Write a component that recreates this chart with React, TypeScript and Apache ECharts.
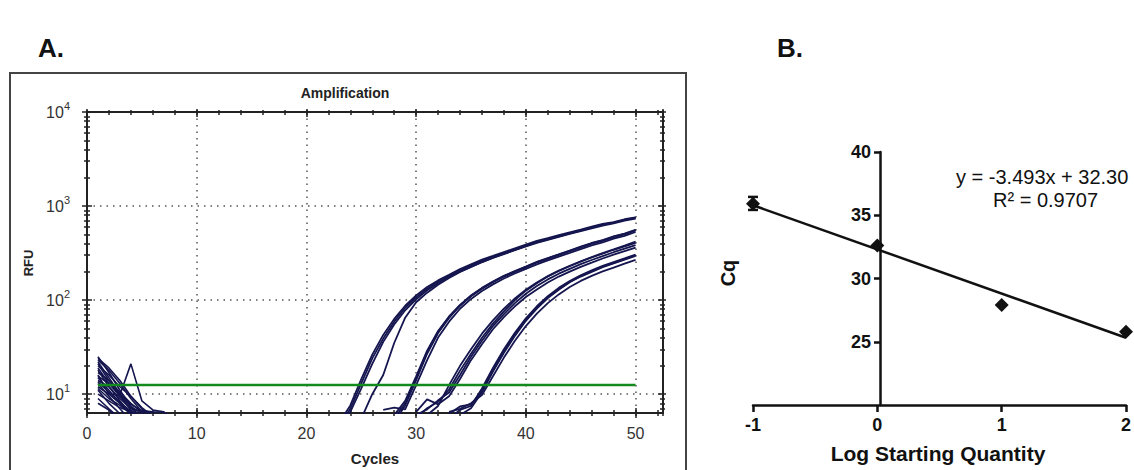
import React, { useEffect, useRef } from "react";
import * as echarts from "echarts";

// ---------- Panel A: amplification curves (RFU per cycle) ----------
const noiseStartCycle = 1;
const noiseCurves: number[][] = [
  [25, 17, 11, 7.5, 5.5, 4.5],
  [24, 19, 14, 9.5, 7, 5.5],
  [23, 18, 13, 9, 6.5, 5],
  [22, 15, 10, 7.2, 5.2],
  [21, 14, 9.5, 6.8, 5],
  [20, 16, 12, 9.5, 7.2, 5.8],
  [19, 13, 10, 7.8, 6.7, 6.5, 6.4, 5.6],
  [18, 12, 8.5, 6.2, 4.8],
  [17, 14, 10.5, 8, 6.4, 5.5, 5],
  [16, 10, 9.8, 21, 8.5, 6.8, 6.5, 5],
  [15.5, 13, 9.5, 7.4, 6.2, 5],
  [15, 11, 8, 6, 4.5],
  [14, 12, 9, 7, 6.6, 6.4, 5],
  [13.5, 10.5, 8.2, 6.6, 5.4],
  [13, 9.5, 7, 5.2],
  [12, 10, 8, 6.5, 5],
  [11.5, 9, 7.6, 6.3, 5.6, 4.8],
  [11, 8, 6.2, 4.5],
  [10, 8.5, 7.2, 6.5, 5.2],
  [9, 7, 5.5],
  [8, 6.8, 5.2],
];

const group1Start = 22;
const group1Curves: number[][] = [
  [3.5, 5.0, 7.6, 14.5, 26.3, 42.7, 63.1, 87.1, 112, 138, 162, 186, 214, 240, 269, 295, 324, 355, 389, 427, 457, 490, 525, 562, 603, 646, 676, 724, 759],
  [3.0, 4.2, 6.5, 11.5, 21, 36, 55, 78, 102, 127, 151, 175, 201, 226, 254, 281, 309, 339, 372, 407, 437, 470, 505, 541, 580, 620, 655, 700, 735],
  [3.2, 4.6, 7.0, 13.0, 24, 39, 59, 83, 107, 132, 157, 181, 208, 233, 262, 289, 317, 347, 381, 417, 447, 480, 515, 552, 592, 633, 666, 712, 748],
  [2.5, 3.0, 4.0, 5.5, 10, 16, 35, 65, 95, 120, 146, 172, 199, 226, 253, 282, 311, 342, 375, 410, 442, 476, 512, 549, 589, 630, 668, 712, 748],
];

const group2Start = 27;
const group2Curves: number[][] = [
  [4.0, 5.0, 7.6, 14.1, 26.9, 44.7, 64.6, 87.1, 110, 132, 155, 178, 200, 224, 251, 275, 302, 331, 363, 398, 427, 468, 501, 550],
  [6.8, 7.2, 6.9, 12.5, 23, 40, 59, 81, 103, 125, 147, 170, 192, 215, 240, 264, 290, 318, 349, 382, 410, 450, 482, 530],
  [5.0, 6.0, 8.5, 15.5, 29, 47, 67, 89, 112, 135, 158, 181, 204, 228, 255, 280, 307, 337, 370, 405, 435, 476, 510, 560],
  [4.5, 5.5, 8.0, 14.8, 28, 46, 66, 88, 111, 134, 157, 180, 202, 226, 253, 278, 305, 334, 366, 401, 431, 472, 505, 555],
];

const group3Start = 30;
const group3Curves: number[][] = [
  [5.6, 7.1, 8.3, 11.2, 17.8, 26.9, 39.8, 56.2, 75.9, 100, 126, 151, 178, 204, 229, 257, 284, 312, 343, 372, 407],
  [6.5, 8.8, 7.8, 9.5, 14.5, 23, 34, 49, 66, 86, 108, 130, 154, 178, 201, 226, 250, 277, 304, 332, 362],
  [5.0, 6.0, 7.5, 12.5, 20, 30, 44, 61, 81, 104, 129, 154, 180, 206, 232, 259, 287, 316, 346, 380, 420],
  [6.0, 6.9, 8.6, 10.4, 16, 25, 37, 53, 71, 93, 117, 141, 166, 191, 215, 241, 267, 294, 323, 352, 385],
];

const group4Start = 33;
const group4Curves: number[][] = [
  [5.0, 6.0, 7.1, 10.5, 17.4, 27.5, 41.7, 60.3, 81.3, 105, 129, 155, 178, 200, 224, 245, 269, 295],
  [6.5, 7.0, 8.0, 9.8, 15.5, 24.5, 37, 53, 72, 93, 115, 138, 160, 181, 202, 222, 244, 268],
  [5.5, 6.8, 7.5, 11.5, 19, 30, 45, 64, 86, 110, 135, 160, 184, 207, 231, 254, 278, 305],
  [6.2, 7.4, 7.8, 10.8, 18, 28.5, 43, 62, 83, 107, 132, 157, 181, 203, 227, 249, 273, 300],
];

const thresholdCycles = [1, 50];
const thresholdRFU = 12.5;

const cycleTicksMajor = 10;
const cycleTicksMinor = 2;
const rfuDecades = [10, 100, 1000, 10000];
const rfuMinorTicks = [
  7, 8, 9, 20, 30, 40, 50, 60, 70, 80, 90, 200, 300, 400, 500, 600, 700, 800, 900,
  2000, 3000, 4000, 5000, 6000, 7000, 8000, 9000,
];

// ---------- Panel B: standard curve ----------
const logQuantity = [-1, 0, 1, 2];
const cqMean = [35.9, 32.6, 27.9, 25.8];
const errX = [-1];
const errLow = [35.42];
const errHigh = [36.45];
const fitX = [-1, 2];
const fitY = [35.79, 25.32];

const AR = 'Arial, "Liberation Sans", sans-serif';
const NAVY = "#15154f";
const AX = "#222";

function buildOption() {
  const lg = (v: number) => Math.log10(v);
  const dotted = { color: "#555", width: 1.5, type: [1.5, 5] as any };

  const xBase = (o: any) => ({
    gridIndex: 0,
    type: "value",
    min: 0,
    max: 52.5,
    axisLine: { show: false, onZero: false, lineStyle: { color: AX, width: 2 } },
    axisLabel: { show: false },
    splitLine: { show: false },
    ...o,
  });
  const tk = (inside: boolean, len: number) => ({
    show: true,
    inside,
    length: len,
    lineStyle: { color: AX, width: 1.5 },
  });
  const xAxes: any[] = [
    xBase({
      position: "bottom",
      interval: cycleTicksMajor,
      axisLine: { show: true, onZero: false, lineStyle: { color: AX, width: 2 } },
      axisTick: tk(false, 5),
      axisLabel: { show: true, showMaxLabel: false, margin: 12, fontSize: 16, color: "#333", fontFamily: AR },
      splitLine: { show: true, lineStyle: dotted },
    }),
    xBase({ position: "bottom", interval: cycleTicksMajor, axisTick: tk(true, 5) }),
    xBase({ position: "bottom", interval: cycleTicksMinor, axisTick: tk(false, 3) }),
    xBase({ position: "bottom", interval: cycleTicksMinor, axisTick: tk(true, 3) }),
    xBase({
      position: "top",
      interval: cycleTicksMajor,
      axisLine: { show: true, onZero: false, lineStyle: { color: AX, width: 2 } },
      axisTick: tk(true, 5),
    }),
    xBase({ position: "top", interval: cycleTicksMajor, axisTick: tk(false, 3) }),
    xBase({ position: "top", interval: cycleTicksMinor, axisTick: tk(true, 3) }),
    xBase({ position: "top", interval: cycleTicksMinor, axisTick: tk(false, 2) }),
  ];

  const majorVals = rfuDecades.map(lg);
  const minorVals = rfuMinorTicks.map(lg);
  const yBase = (o: any) => ({
    gridIndex: 0,
    type: "value",
    min: 0.8,
    max: 4,
    axisLine: { show: false, onZero: false, lineStyle: { color: AX, width: 2 } },
    axisLabel: { show: false },
    splitLine: { show: false },
    ...o,
  });
  const ctk = (vals: number[], inside: boolean, len: number) => ({
    show: true,
    inside,
    length: len,
    customValues: vals,
    lineStyle: { color: AX, width: 1.5 },
  });
  const yAxes: any[] = [
    yBase({
      position: "left",
      axisLine: { show: true, onZero: false, lineStyle: { color: AX, width: 2 } },
      axisTick: ctk(majorVals, false, 5),
      axisLabel: {
        show: true,
        customValues: majorVals,
        margin: 17,
        fontSize: 16,
        formatter: (v: number) => "{b|10}{s|" + Math.round(v) + "}",
        rich: {
          b: { fontSize: 16, color: "#333", fontFamily: AR },
          s: { fontSize: 11, color: "#333", fontFamily: AR, padding: [0, 0, 12, 0] },
        },
      },
      splitLine: { show: true, lineStyle: dotted },
    }),
    yBase({ position: "left", axisTick: ctk(majorVals, true, 5) }),
    yBase({ position: "left", axisTick: ctk(minorVals, false, 3) }),
    yBase({ position: "left", axisTick: ctk(minorVals, true, 3) }),
    yBase({
      position: "right",
      axisLine: { show: true, onZero: false, lineStyle: { color: AX, width: 2 } },
      axisTick: ctk(majorVals, true, 5),
    }),
    yBase({ position: "right", axisTick: ctk(majorVals, false, 3) }),
    yBase({ position: "right", axisTick: ctk(minorVals, true, 3) }),
    yBase({ position: "right", axisTick: ctk(minorVals, false, 2) }),
  ];

  // panel B axes
  xAxes.push({
    gridIndex: 1,
    type: "value",
    min: -1,
    max: 2,
    interval: 1,
    position: "bottom",
    axisLine: { onZero: false, lineStyle: { color: "#111", width: 2.5 } },
    axisTick: { show: true, length: 7, lineStyle: { color: "#111", width: 2.5 } },
    axisLabel: { fontSize: 18, fontWeight: "bold", color: "#111", fontFamily: AR, margin: 11 },
    splitLine: { show: false },
  });
  yAxes.push({
    gridIndex: 1,
    type: "value",
    min: 20,
    max: 40,
    interval: 5,
    position: "left",
    offset: -127,
    axisLine: { show: true, onZero: false, lineStyle: { color: "#111", width: 2.5 } },
    axisTick: { show: true, length: 6, lineStyle: { color: "#111", width: 2.5 } },
    axisLabel: { fontSize: 18, fontWeight: "bold", color: "#111", fontFamily: AR, margin: 9, showMinLabel: false },
    splitLine: { show: false },
  });
  const bX = xAxes.length - 1;
  const bY = yAxes.length - 1;

  const series: any[] = [];
  const curve = (start: number, vals: number[], width: number) => ({
    type: "line",
    xAxisIndex: 0,
    yAxisIndex: 0,
    showSymbol: false,
    symbol: "none",
    clip: true,
    silent: true,
    lineStyle: { color: NAVY, width },
    data: vals.map((v, i) => [start + i, lg(v)]),
    z: 3,
  });
  noiseCurves.forEach((c) => series.push(curve(noiseStartCycle, c, 1.6)));
  group1Curves.forEach((c) => series.push(curve(group1Start, c, 1.8)));
  group2Curves.forEach((c) => series.push(curve(group2Start, c, 1.8)));
  group3Curves.forEach((c) => series.push(curve(group3Start, c, 1.8)));
  group4Curves.forEach((c) => series.push(curve(group4Start, c, 1.8)));
  series.push({
    type: "line",
    xAxisIndex: 0,
    yAxisIndex: 0,
    showSymbol: false,
    symbol: "none",
    silent: true,
    lineStyle: { color: "#138a1e", width: 2.5 },
    data: thresholdCycles.map((c) => [c, lg(thresholdRFU)]),
    z: 5,
  });

  // panel B series
  series.push({
    type: "line",
    xAxisIndex: bX,
    yAxisIndex: bY,
    showSymbol: false,
    symbol: "none",
    silent: true,
    clip: false,
    lineStyle: { color: "#111", width: 2.5 },
    data: fitX.map((x, i) => [x, fitY[i]]),
    z: 4,
  });
  series.push({
    type: "custom",
    xAxisIndex: bX,
    yAxisIndex: bY,
    silent: true,
    clip: false,
    data: errX.map((x, i) => [x, errLow[i], errHigh[i]]),
    renderItem: (params: any, api: any) => {
      const lo = api.coord([api.value(0), api.value(1)]);
      const hi = api.coord([api.value(0), api.value(2)]);
      const w = 5;
      const st = { stroke: "#111", lineWidth: 2.5 };
      return {
        type: "group",
        children: [
          { type: "line", shape: { x1: lo[0], y1: lo[1], x2: hi[0], y2: hi[1] }, style: st },
          { type: "line", shape: { x1: lo[0] - w, y1: lo[1], x2: lo[0] + w, y2: lo[1] }, style: st },
          { type: "line", shape: { x1: hi[0] - w, y1: hi[1], x2: hi[0] + w, y2: hi[1] }, style: st },
        ],
      };
    },
    z: 5,
  });
  series.push({
    type: "scatter",
    xAxisIndex: bX,
    yAxisIndex: bY,
    symbol: "diamond",
    symbolSize: [14, 14],
    clip: false,
    silent: true,
    itemStyle: { color: "#111", opacity: 1 },
    data: logQuantity.map((x, i) => [x, cqMean[i]]),
    z: 6,
  });

  const graphic: any[] = [
    {
      type: "rect",
      shape: { x: 10, y: 73, width: 676, height: 430 },
      style: { fill: "none", stroke: "#444", lineWidth: 2 },
      silent: true,
    },
    {
      type: "text",
      x: 38,
      y: 48,
      style: { text: "A.", font: 'bold 26px "Liberation Sans Narrow", "Liberation Sans", sans-serif', fill: "#111", textVerticalAlign: "middle" },
    },
    {
      type: "text",
      x: 777,
      y: 48,
      style: { text: "B.", font: 'bold 26px "Liberation Sans Narrow", "Liberation Sans", sans-serif', fill: "#111", textVerticalAlign: "middle" },
    },
    {
      type: "text",
      x: 345,
      y: 93,
      style: { text: "Amplification", font: 'bold 14px ' + AR, fill: "#222", textAlign: "center", textVerticalAlign: "middle" },
    },
    {
      type: "text",
      x: 28,
      y: 263,
      rotation: Math.PI / 2,
      style: { text: "RFU", font: 'bold 13px ' + AR, fill: "#222", textAlign: "center", textVerticalAlign: "middle" },
    },
    {
      type: "text",
      x: 375,
      y: 458,
      style: { text: "Cycles", font: 'bold 15px ' + AR, fill: "#222", textAlign: "center", textVerticalAlign: "middle" },
    },
    {
      type: "text",
      x: 728,
      y: 273,
      rotation: Math.PI / 2,
      style: { text: "Cq", font: 'bold 20px ' + AR, fill: "#111", textAlign: "center", textVerticalAlign: "middle" },
    },
    {
      type: "text",
      x: 938,
      y: 453,
      style: { text: "Log Starting Quantity", font: 'bold 21px ' + AR, fill: "#111", textAlign: "center", textVerticalAlign: "middle" },
    },
    {
      type: "text",
      x: 956,
      y: 177,
      style: { text: "y = -3.493x + 32.30", font: '20px ' + AR, fill: "#111", textAlign: "left", textVerticalAlign: "middle" },
    },
    {
      type: "text",
      x: 993,
      y: 200,
      style: { text: "R² = 0.9707", font: '20px ' + AR, fill: "#111", textAlign: "left", textVerticalAlign: "middle" },
    },
  ];

  return {
    animation: false,
    backgroundColor: "#fff",
    grid: [
      { left: 87, top: 112, width: 576, height: 301 },
      { left: 753, top: 152, width: 380, height: 253 },
    ],
    xAxis: xAxes,
    yAxis: yAxes,
    series,
    graphic,
  };
}

export default function App() {
  const ref = useRef<HTMLDivElement>(null);
  useEffect(() => {
    if (!ref.current) return;
    const chart = echarts.init(ref.current, undefined, { renderer: "svg" });
    chart.setOption(buildOption() as any);
    return () => chart.dispose();
  }, []);
  return (
    <div
      ref={ref}
      style={{ position: "fixed", left: 0, top: 0, width: 1134, height: 470, background: "#fff" }}
    />
  );
}
